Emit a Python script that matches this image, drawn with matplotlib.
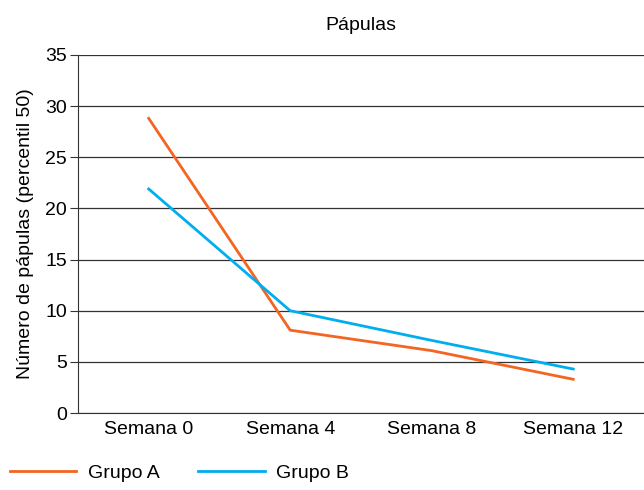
import matplotlib
matplotlib.use("Agg")
import matplotlib.pyplot as plt
from matplotlib.lines import Line2D

plt.rcParams["font.family"] = ["Liberation Sans Narrow", "Liberation Sans", "DejaVu Sans"]

semanas = ["Semana 0", "Semana 4", "Semana 8", "Semana 12"]
grupo_a = [28.8, 8.1, 6.1, 3.3]
grupo_b = [21.9, 10.0, 7.1, 4.3]

fig = plt.figure(figsize=(6.44, 4.90), dpi=100)
ax = fig.add_axes([0.121, 0.157, 0.879, 0.731])

x = range(len(semanas))
ax.plot(x, grupo_a, color="#F26522", linewidth=2, label="Grupo A", zorder=3)
ax.plot(x, grupo_b, color="#00AEEF", linewidth=2, label="Grupo B", zorder=3)

ax.set_xlim(-0.5, 3.5)
ax.set_ylim(0, 35)
ax.set_yticks(range(0, 36, 5))
ax.set_xticks(list(x))
ax.set_xticklabels(semanas)
ax.yaxis.grid(True, color="#333333", linewidth=0.9)
ax.set_axisbelow(True)

for s in ["top", "right"]:
    ax.spines[s].set_visible(False)
ax.spines["left"].set_color("#333333")
ax.spines["bottom"].set_color("#333333")
ax.tick_params(axis="y", length=6, color="#333333", labelsize=14, pad=2)
ax.tick_params(axis="x", length=0, labelsize=14, pad=6)

ax.set_ylabel("Número de pápulas (percentil 50)", fontsize=14, labelpad=8)
ax.set_title("Pápulas", fontsize=14, pad=18)

handles = [Line2D([], [], color="#F26522", linewidth=2),
           Line2D([], [], color="#00AEEF", linewidth=2)]
fig.legend(handles, ["Grupo A", "Grupo B"], loc="lower left",
           bbox_to_anchor=(10 / 644, 8 / 490), ncol=2, frameon=False, fontsize=14,
           handlelength=3.4, columnspacing=2.0, handletextpad=0.6,
           borderaxespad=0, borderpad=0)

fig.savefig("out.png", dpi=100)
